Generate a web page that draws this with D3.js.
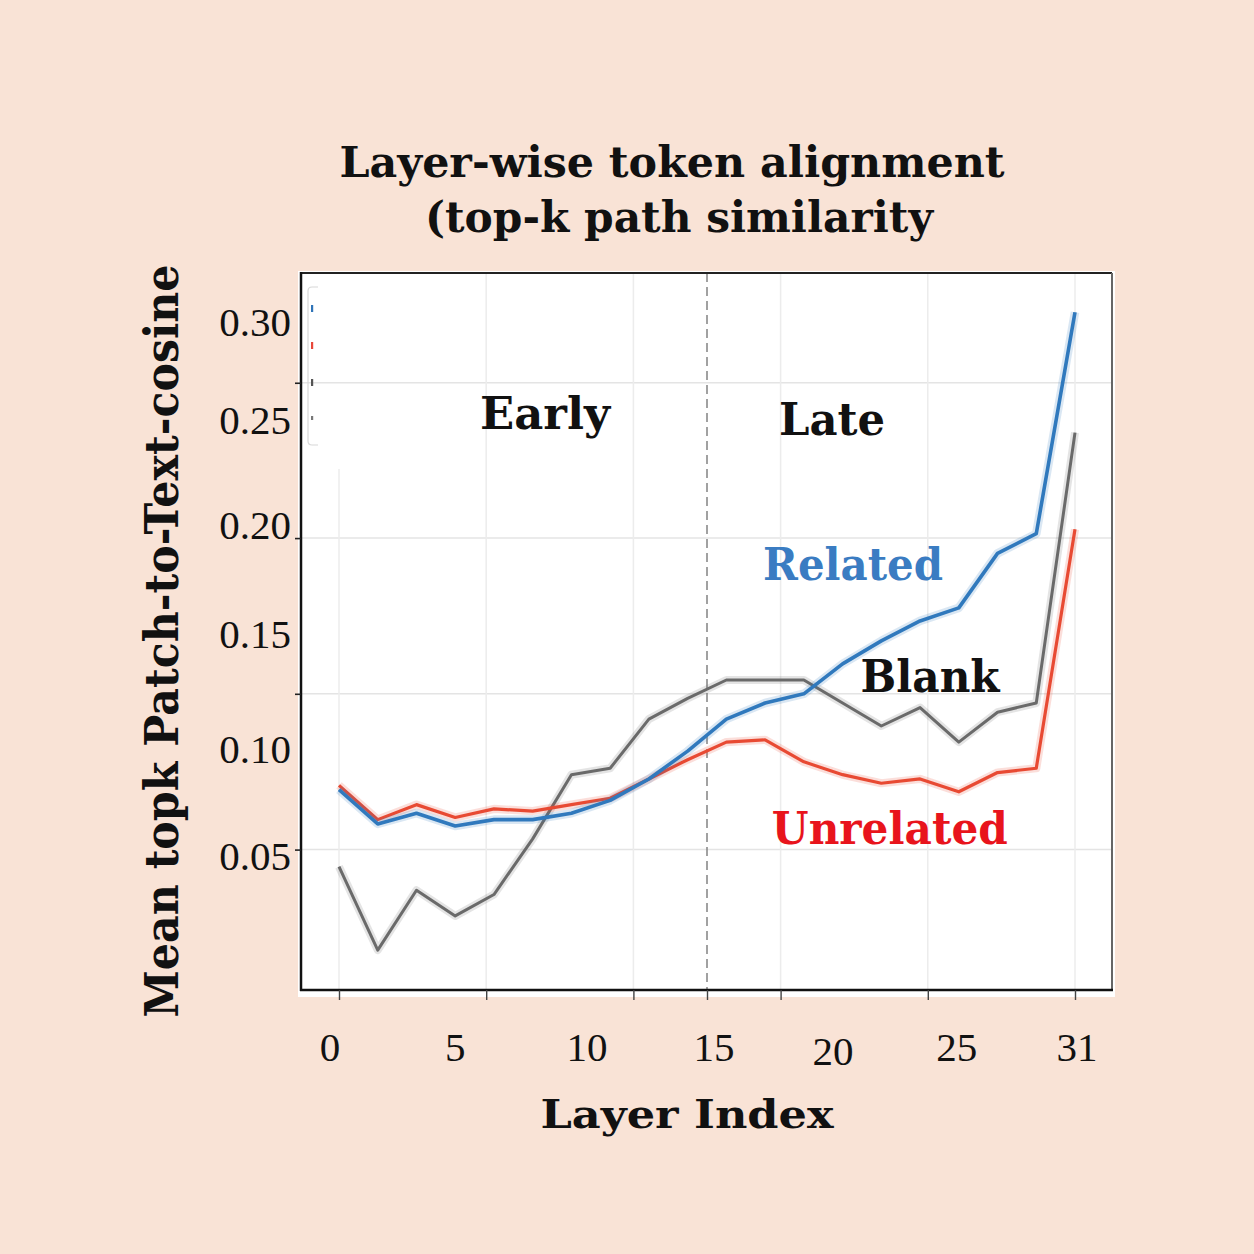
<!DOCTYPE html>
<html>
<head>
<meta charset="utf-8">
<script src="https://cdn.jsdelivr.net/npm/d3@7"></script>
<style>
  body { margin: 0; background: #f9e3d6; }
  svg { display: block; }
</style>
</head>
<body>
<div class="canvas"></div>
<script>
// sampled layers (20 points shown on the plot)
const layers = [0, 1, 2, 3, 4, 5, 6, 7, 8, 9, 10, 11, 12, 13, 14, 15, 16, 17, 18, 19];

const related = [0.081, 0.065, 0.070, 0.064, 0.067, 0.067, 0.070, 0.076, 0.086, 0.099,
    0.113, 0.120, 0.124, 0.137, 0.147, 0.156, 0.162, 0.187, 0.196, 0.305];
const unrelated = [0.083, 0.067, 0.074, 0.068, 0.072, 0.071, 0.074, 0.077, 0.086, 0.095,
    0.103, 0.104, 0.094, 0.088, 0.084, 0.086, 0.080, 0.089, 0.091, 0.198];
const blank = [0.045, 0.006, 0.034, 0.022, 0.032, 0.058, 0.088, 0.091, 0.113, 0.122,
    0.130, 0.130, 0.130, 0.120, 0.110, 0.118, 0.103, 0.116, 0.120, 0.244];

const yTicks = [0.05, 0.10, 0.15, 0.20, 0.25, 0.30];
const yGrid = [0.053, 0.124, 0.194, 0.269];

const xTickAt = [0, 3.8, 7.6, 9.5, 11.4, 15.2, 19];
const xTickLabels = ['0', '5', '10', '15', '20', '25', '31'];
const xLabelAt = [-0.23, 3.0, 6.4, 9.68, 12.75, 15.95, 19.05];
const splitAt = 9.5;

const notes = [
    { text: 'Early', x: 5.32, y: 0.2457, w: 130, color: '#111' },
    { text: 'Late', x: 12.73, y: 0.2429, w: 106, color: '#111' },
    { text: 'Related', x: 13.27, y: 0.1748, w: 180, color: '#3a7cc2' },
    { text: 'Blank', x: 15.26, y: 0.1248, w: 139, color: '#111' },
    { text: 'Unrelated', x: 14.22, y: 0.0556, w: 236, color: '#e8141c' },
];

const width = 1254, height = 1254;
const box = { left: 301, right: 1112, top: 273, bottom: 990 };
const serifBold = '"DejaVu Serif", serif';
const serif = '"Liberation Serif", "Times New Roman", serif';

const svg = d3.select('.canvas')
    .append('svg')
    .attr('width', width)
    .attr('height', height)
    .attr('style', 'background:#f9e3d6');

const x = d3.scaleLinear().domain([0, 19]).range([339, 1075]);
// tick labels in the picture are unevenly spaced, so the scale goes through them
const y = d3.scaleLinear().domain(yTicks).range([856, 749, 634, 525, 420, 322]);

// white plot area
svg.append('rect')
    .attr('x', box.left - 3).attr('y', box.top - 2)
    .attr('width', box.right - box.left + 6).attr('height', box.bottom - box.top + 9)
    .attr('fill', '#fff');

const graph = svg.append('g');

// grid
graph.selectAll('.hgrid')
    .data(yGrid)
    .enter().append('line')
    .attr('x1', box.left).attr('x2', box.right)
    .attr('y1', d => y(d)).attr('y2', d => y(d))
    .attr('stroke', '#e4e4e4').attr('stroke-width', 1.5);

graph.selectAll('.vgrid')
    .data(xTickAt.filter(d => d !== splitAt))
    .enter().append('line')
    .attr('x1', d => x(d)).attr('x2', d => x(d))
    .attr('y1', d => d === 0 ? 469 : box.top).attr('y2', box.bottom)
    .attr('stroke', '#ececec').attr('stroke-width', 1.5);

// early / late divider
graph.append('line')
    .attr('x1', x(splitAt)).attr('x2', x(splitAt))
    .attr('y1', box.top).attr('y2', box.bottom)
    .attr('stroke', '#8a8a8a').attr('stroke-width', 1.6)
    .attr('stroke-dasharray', '9,5');

// leftover legend box
graph.append('path')
    .attr('d', `M318,287 H312 Q308,287 308,291 V441 Q308,445 312,445 H318`)
    .attr('fill', 'none').attr('stroke', '#d8d8d8').attr('stroke-width', 1.2);
const legendColors = ['#2f74b8', '#e8473a', '#555', '#777'];
graph.selectAll('.lg')
    .data(legendColors)
    .enter().append('rect')
    .attr('x', 311).attr('y', (d, i) => 305 + i * 37)
    .attr('width', 2.2).attr('height', (d, i) => i === 3 ? 4 : 7)
    .attr('fill', d => d);

// lines
const line = d3.line()
    .x((d, i) => x(layers[i]))
    .y(d => y(d));

const series = [
    { values: blank, color: '#6a6a6a', w: 3 },
    { values: unrelated, color: '#e84a33', w: 3.2 },
    { values: related, color: '#3079bd', w: 3.6 },
];

series.forEach(s => {
    graph.append('path')
        .attr('d', line(s.values))
        .attr('fill', 'none')
        .attr('stroke', s.color)
        .attr('stroke-opacity', 0.18)
        .attr('stroke-width', s.w + 5)
        .attr('stroke-linejoin', 'round');
    graph.append('path')
        .attr('d', line(s.values))
        .attr('fill', 'none')
        .attr('stroke', s.color)
        .attr('stroke-width', s.w)
        .attr('stroke-linejoin', 'round');
});

// annotations
graph.selectAll('.note')
    .data(notes)
    .enter().append('text')
    .attr('x', d => x(d.x))
    .attr('y', d => y(d.y))
    .attr('text-anchor', 'middle')
    .attr('font-family', serifBold)
    .attr('font-weight', 'bold')
    .attr('font-size', 45)
    .attr('fill', d => d.color)
    .attr('textLength', d => d.w)
    .attr('lengthAdjust', 'spacingAndGlyphs')
    .text(d => d.text);

// frame
const frame = svg.append('g').attr('fill', 'none');
frame.append('line').attr('x1', box.left).attr('x2', box.right).attr('y1', box.top).attr('y2', box.top)
    .attr('stroke', '#222').attr('stroke-width', 2);
frame.append('line').attr('x1', box.right).attr('x2', box.right).attr('y1', box.top).attr('y2', box.bottom)
    .attr('stroke', '#666').attr('stroke-width', 2);
frame.append('line').attr('x1', box.left).attr('x2', box.left).attr('y1', box.top - 1).attr('y2', box.bottom + 1)
    .attr('stroke', '#111').attr('stroke-width', 2.5);
frame.append('line').attr('x1', box.left - 1).attr('x2', box.right + 1).attr('y1', box.bottom).attr('y2', box.bottom)
    .attr('stroke', '#111').attr('stroke-width', 2.5);

// axis ticks
svg.append('g')
    .attr('transform', `translate(0,${box.bottom})`)
    .call(d3.axisBottom(x).tickValues(xTickAt).tickSize(10).tickFormat(''))
    .call(g => g.select('.domain').remove())
    .call(g => g.selectAll('line').attr('stroke', '#444').attr('stroke-width', 1.4));

svg.append('g')
    .attr('transform', `translate(${box.left},0)`)
    .call(d3.axisLeft(y).tickValues(yGrid).tickSize(6).tickFormat(''))
    .call(g => g.select('.domain').remove())
    .call(g => g.selectAll('line').attr('stroke', '#222').attr('stroke-width', 1.6));

// tick labels
svg.selectAll('.ylab')
    .data(yTicks)
    .enter().append('text')
    .attr('x', 291)
    .attr('y', d => y(d))
    .attr('dy', '0.34em')
    .attr('text-anchor', 'end')
    .attr('font-family', serif)
    .attr('font-size', 41)
    .attr('fill', '#111')
    .text(d => d.toFixed(2));

svg.selectAll('.xlab')
    .data(xTickLabels)
    .enter().append('text')
    .attr('x', (d, i) => x(xLabelAt[i]))
    .attr('y', (d, i) => d === '20' ? 1065 : 1061)
    .attr('text-anchor', 'middle')
    .attr('font-family', serif)
    .attr('font-size', 41)
    .attr('fill', '#111')
    .text(d => d);

// titles
const title = ['Layer-wise token alignment', '(top-k path similarity'];
const titleW = [665, 508];
svg.selectAll('.title')
    .data(title)
    .enter().append('text')
    .attr('x', (d, i) => i === 0 ? 672 : 679)
    .attr('y', (d, i) => 177 + i * 55)
    .attr('text-anchor', 'middle')
    .attr('font-family', serifBold)
    .attr('font-weight', 'bold')
    .attr('font-size', 42)
    .attr('fill', '#111')
    .attr('textLength', (d, i) => titleW[i])
    .attr('lengthAdjust', 'spacingAndGlyphs')
    .text(d => d);

svg.append('text')
    .attr('x', 687).attr('y', 1128)
    .attr('text-anchor', 'middle')
    .attr('font-family', serifBold)
    .attr('font-weight', 'bold')
    .attr('font-size', 40)
    .attr('fill', '#111')
    .attr('textLength', 293)
    .attr('lengthAdjust', 'spacingAndGlyphs')
    .text('Layer Index');

svg.append('text')
    .attr('transform', 'translate(178,641) rotate(-90)')
    .attr('text-anchor', 'middle')
    .attr('font-family', serifBold)
    .attr('font-weight', 'bold')
    .attr('font-size', 46)
    .attr('fill', '#111')
    .attr('textLength', 753)
    .attr('lengthAdjust', 'spacingAndGlyphs')
    .text('Mean topk Patch-to-Text-cosine');
</script>
</body>
</html>
